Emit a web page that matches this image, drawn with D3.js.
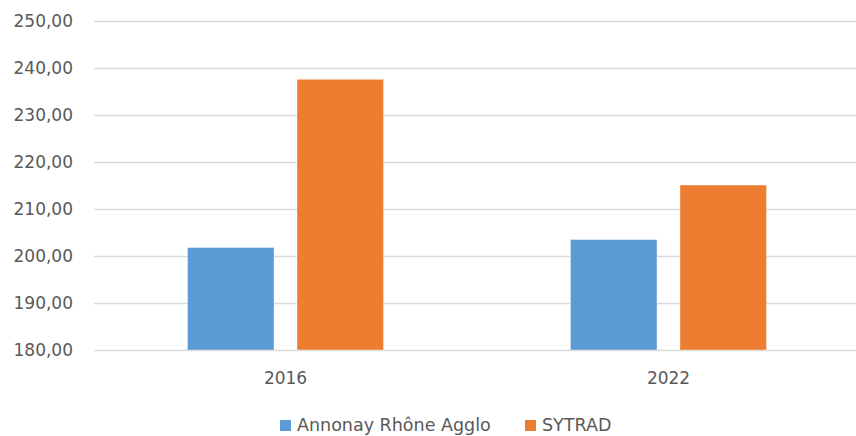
<!DOCTYPE html>
<html>
<head>
<meta charset="utf-8">
<script src="https://cdn.jsdelivr.net/npm/d3@7"></script>
<style>
  html, body { margin: 0; padding: 0; background: #fff; }
  svg { display: block; }
  text { font-family: "DejaVu Sans", sans-serif; fill: #595959; }
</style>
</head>
<body>
<svg id="chart" width="856" height="436"></svg>
<script>
const categories = ["2016", "2022"];
const seriesNames = ["Annonay Rhône Agglo", "SYTRAD"];
const annonayValues = [201.8, 203.5];
const sytradValues = [237.6, 215.1];
const yTicks = [180, 190, 200, 210, 220, 230, 240, 250];
const colors = ["#5b9bd5", "#ed7d31"];

const seriesValues = [annonayValues, sytradValues];
const svg = d3.select("#chart");

const plot = { left: 94, right: 860, top: 21, bottom: 350 };

const y = d3.scaleLinear().domain([180, 250]).range([plot.bottom, plot.top]);
const x0 = d3.scaleBand().domain(categories).range([plot.left, plot.right]).padding(0);
const groupW = 196;
const off = (x0.bandwidth() - groupW) / 2;
const x1 = d3.scaleBand().domain(seriesNames).range([off, off + groupW]).paddingInner(0.21).paddingOuter(0);

// gridlines
const yAxis = d3.axisLeft(y).tickValues(yTicks)
  .tickSize(-(856 - plot.left))
  .tickFormat(d => d3.format(".2f")(d).replace(".", ","));
const gy = svg.append("g").attr("transform", `translate(${plot.left},0)`).call(yAxis);
gy.select(".domain").remove();
gy.selectAll(".tick line").attr("stroke", "#d9d9d9").attr("stroke-width", 1.5);
gy.selectAll(".tick text").attr("x", -21).attr("dy", "0.34em")
  .style("font-size", "17px").style("fill", "#595959");

// bars
const groups = svg.append("g").selectAll("g").data(categories).join("g")
  .attr("transform", d => `translate(${x0(d)},0)`);
groups.selectAll("rect")
  .data((d, i) => seriesNames.map((s, j) => ({ s, j, v: seriesValues[j][i] })))
  .join("rect")
  .attr("x", d => x1(d.s))
  .attr("width", x1.bandwidth())
  .attr("y", d => y(d.v))
  .attr("height", d => y(180) - y(d.v))
  .attr("fill", d => colors[d.j])
  .attr("stroke", "#ffffff").attr("stroke-opacity", 0.5).attr("stroke-width", 0.75);

// x axis labels
const xAxis = d3.axisBottom(x0).tickSize(0);
const gx = svg.append("g").attr("transform", `translate(0,${plot.bottom})`).call(xAxis);
gx.select(".domain").remove();
gx.selectAll(".tick text").attr("y", 22).attr("dy", "0.71em")
  .style("font-size", "17px").style("fill", "#595959");

// legend
const legendItems = [
  { name: seriesNames[0], color: colors[0], x: 280 },
  { name: seriesNames[1], color: colors[1], x: 525 }
];
const lg = svg.append("g");
legendItems.forEach(it => {
  lg.append("rect").attr("x", it.x).attr("y", 420).attr("width", 11).attr("height", 11).attr("fill", it.color);
  lg.append("text").attr("x", it.x + 17).attr("y", 431).style("font-size", "17.5px").text(it.name);
});
</script>
</body>
</html>
